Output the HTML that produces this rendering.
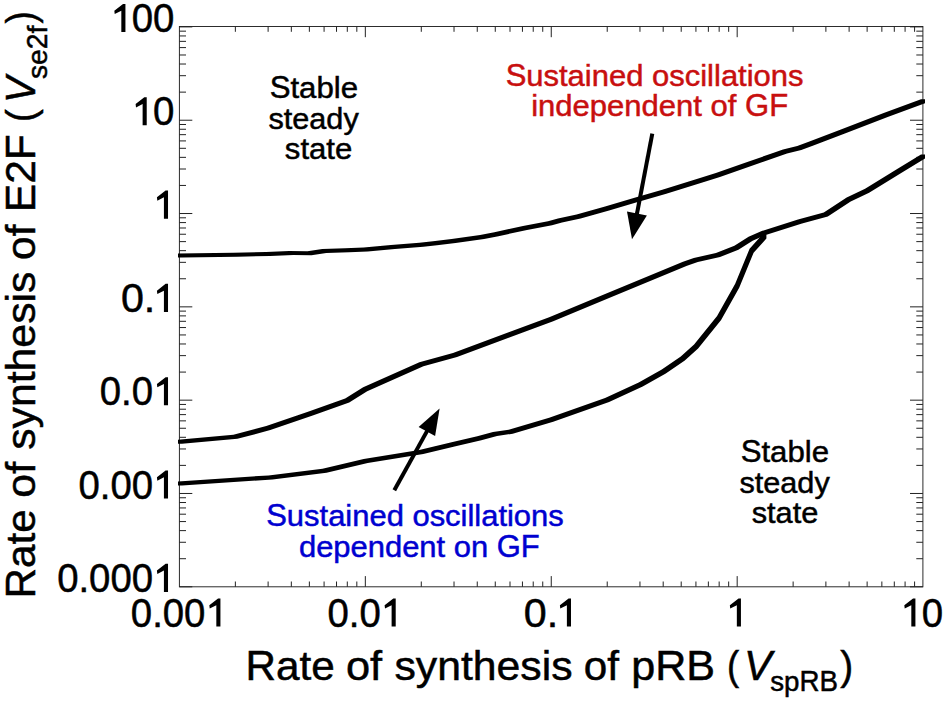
<!DOCTYPE html>
<html><head><meta charset="utf-8"><title>Chart</title>
<style>
html,body{margin:0;padding:0;background:#fff;overflow:hidden;}
svg{display:block;}
text{font-family:"Liberation Sans",sans-serif;font-kerning:none;}
</style></head><body>
<svg width="945" height="701" viewBox="0 0 945 701">
<rect width="945" height="701" fill="#fff"/>
<rect x="179.4" y="26.5" width="743.5" height="560.3" fill="none" stroke="#222" stroke-width="0.95"/>
<path d="M235.37 586.8v-5.3M235.37 26.5v5.3M268.11 586.8v-5.3M268.11 26.5v5.3M291.34 586.8v-5.3M291.34 26.5v5.3M309.36 586.8v-5.3M309.36 26.5v5.3M324.08 586.8v-5.3M324.08 26.5v5.3M336.52 586.8v-5.3M336.52 26.5v5.3M347.31 586.8v-5.3M347.31 26.5v5.3M356.82 586.8v-5.3M356.82 26.5v5.3M365.33 586.8v-10.7M365.33 26.5v10.7M421.29 586.8v-5.3M421.29 26.5v5.3M454.03 586.8v-5.3M454.03 26.5v5.3M477.26 586.8v-5.3M477.26 26.5v5.3M495.28 586.8v-5.3M495.28 26.5v5.3M510.00 586.8v-5.3M510.00 26.5v5.3M522.45 586.8v-5.3M522.45 26.5v5.3M533.23 586.8v-5.3M533.23 26.5v5.3M542.74 586.8v-5.3M542.74 26.5v5.3M551.25 586.8v-10.7M551.25 26.5v10.7M607.22 586.8v-5.3M607.22 26.5v5.3M639.96 586.8v-5.3M639.96 26.5v5.3M663.19 586.8v-5.3M663.19 26.5v5.3M681.21 586.8v-5.3M681.21 26.5v5.3M695.93 586.8v-5.3M695.93 26.5v5.3M708.37 586.8v-5.3M708.37 26.5v5.3M719.16 586.8v-5.3M719.16 26.5v5.3M728.67 586.8v-5.3M728.67 26.5v5.3M737.18 586.8v-10.7M737.18 26.5v10.7M793.14 586.8v-5.3M793.14 26.5v5.3M825.88 586.8v-5.3M825.88 26.5v5.3M849.11 586.8v-5.3M849.11 26.5v5.3M867.13 586.8v-5.3M867.13 26.5v5.3M881.85 586.8v-5.3M881.85 26.5v5.3M894.30 586.8v-5.3M894.30 26.5v5.3M905.08 586.8v-5.3M905.08 26.5v5.3M914.59 586.8v-5.3M914.59 26.5v5.3M179.4 586.80h12.9M922.9 586.80h-12.9M179.4 558.71h6.6M922.9 558.71h-6.6M179.4 542.28h6.6M922.9 542.28h-6.6M179.4 530.62h6.6M922.9 530.62h-6.6M179.4 521.57h6.6M922.9 521.57h-6.6M179.4 514.19h6.6M922.9 514.19h-6.6M179.4 507.94h6.6M922.9 507.94h-6.6M179.4 502.53h6.6M922.9 502.53h-6.6M179.4 497.75h6.6M922.9 497.75h-6.6M179.4 493.48h12.9M922.9 493.48h-12.9M179.4 465.39h6.6M922.9 465.39h-6.6M179.4 448.96h6.6M922.9 448.96h-6.6M179.4 437.30h6.6M922.9 437.30h-6.6M179.4 428.26h6.6M922.9 428.26h-6.6M179.4 420.87h6.6M922.9 420.87h-6.6M179.4 414.62h6.6M922.9 414.62h-6.6M179.4 409.21h6.6M922.9 409.21h-6.6M179.4 404.44h6.6M922.9 404.44h-6.6M179.4 400.17h12.9M922.9 400.17h-12.9M179.4 372.08h6.6M922.9 372.08h-6.6M179.4 355.64h6.6M922.9 355.64h-6.6M179.4 343.98h6.6M922.9 343.98h-6.6M179.4 334.94h6.6M922.9 334.94h-6.6M179.4 327.55h6.6M922.9 327.55h-6.6M179.4 321.30h6.6M922.9 321.30h-6.6M179.4 315.89h6.6M922.9 315.89h-6.6M179.4 311.12h6.6M922.9 311.12h-6.6M179.4 306.85h12.9M922.9 306.85h-12.9M179.4 278.76h6.6M922.9 278.76h-6.6M179.4 262.33h6.6M922.9 262.33h-6.6M179.4 250.67h6.6M922.9 250.67h-6.6M179.4 241.62h6.6M922.9 241.62h-6.6M179.4 234.24h6.6M922.9 234.24h-6.6M179.4 227.99h6.6M922.9 227.99h-6.6M179.4 222.58h6.6M922.9 222.58h-6.6M179.4 217.80h6.6M922.9 217.80h-6.6M179.4 213.53h12.9M922.9 213.53h-12.9M179.4 185.44h6.6M922.9 185.44h-6.6M179.4 169.01h6.6M922.9 169.01h-6.6M179.4 157.35h6.6M922.9 157.35h-6.6M179.4 148.31h6.6M922.9 148.31h-6.6M179.4 140.92h6.6M922.9 140.92h-6.6M179.4 134.67h6.6M922.9 134.67h-6.6M179.4 129.26h6.6M922.9 129.26h-6.6M179.4 124.49h6.6M922.9 124.49h-6.6M179.4 120.22h12.9M922.9 120.22h-12.9M179.4 92.13h6.6M922.9 92.13h-6.6M179.4 75.69h6.6M922.9 75.69h-6.6M179.4 64.03h6.6M922.9 64.03h-6.6M179.4 54.99h6.6M922.9 54.99h-6.6M179.4 47.60h6.6M922.9 47.60h-6.6M179.4 41.35h6.6M922.9 41.35h-6.6M179.4 35.94h6.6M922.9 35.94h-6.6M179.4 31.17h6.6M922.9 31.17h-6.6M179.4 26.90h12.9M922.9 26.90h-12.9" fill="none" stroke="#222" stroke-width="1"/>
<path d="M178.0 257.4 L178.0 253.4 L233.4 252.7 L266.1 252.0 L289.3 250.9 L307.4 251.3 L322.3 249.1 L345.1 248.3 L363.7 247.6 L390.9 245.1 L419.4 242.7 L433.0 241.3 L451.6 239.0 L480.1 234.9 L494.4 232.2 L523.0 225.9 L548.0 221.3 L558.0 218.6 L576.6 214.4 L605.1 206.6 L633.7 198.0 L662.3 189.7 L701.6 177.5 L715.9 173.0 L744.4 163.0 L773.0 153.0 L783.0 149.4 L797.3 145.9 L809.4 141.6 L840.9 129.4 L883.7 113.0 L921.0 99.3 L925.0 99.3 L925.0 103.3 L887.7 117.0 L844.9 133.4 L813.4 145.6 L801.3 149.9 L787.0 153.4 L777.0 157.0 L748.4 167.0 L719.9 177.0 L705.6 181.5 L666.3 193.7 L637.7 202.0 L609.1 210.6 L580.6 218.4 L562.0 222.6 L552.0 225.3 L527.0 229.9 L498.4 236.2 L484.1 238.9 L455.6 243.0 L437.0 245.3 L423.4 246.7 L394.9 249.1 L367.7 251.6 L349.1 252.3 L326.3 253.1 L311.4 255.3 L293.3 254.9 L270.1 256.0 L237.4 256.7 L182.0 257.4Z" fill="#000"/>
<path d="M178.0 443.8 L178.0 439.8 L233.4 434.8 L266.3 426.1 L308.7 411.5 L345.2 398.4 L363.2 387.3 L419.4 362.3 L453.0 353.0 L549.2 317.2 L605.1 294.0 L683.0 261.8 L693.8 258.0 L716.0 253.0 L734.4 245.8 L748.6 236.8 L761.7 231.1 L798.0 219.4 L823.8 212.4 L846.7 197.4 L865.1 188.8 L898.0 168.6 L921.0 154.4 L925.0 154.4 L925.0 158.4 L902.0 172.6 L869.1 192.8 L850.7 201.4 L827.8 216.4 L802.0 223.4 L765.7 235.1 L752.6 240.8 L738.4 249.8 L720.0 257.0 L697.8 262.0 L687.0 265.8 L609.1 298.0 L553.2 321.2 L457.0 357.0 L423.4 366.3 L367.2 391.3 L349.2 402.4 L312.7 415.5 L270.3 430.1 L237.4 438.8 L182.0 443.8Z" fill="#000"/>
<path d="M178.0 485.4 L178.0 481.4 L268.5 475.4 L322.5 468.8 L363.7 458.9 L419.3 450.0 L451.6 442.3 L477.3 436.3 L493.0 432.0 L508.7 429.7 L549.2 417.8 L605.1 398.0 L638.7 382.5 L661.8 369.4 L680.8 356.5 L694.1 344.5 L717.1 315.9 L735.2 283.8 L749.6 248.7 L762.4 234.5 L766.4 234.5 L766.4 238.5 L753.6 252.7 L739.2 287.8 L721.1 319.9 L698.1 348.5 L684.8 360.5 L665.8 373.4 L642.7 386.5 L609.1 402.0 L553.2 421.8 L512.7 433.7 L497.0 436.0 L481.3 440.3 L455.6 446.3 L423.3 454.0 L367.7 462.9 L326.5 472.8 L272.5 479.4 L182.0 485.4Z" fill="#000"/>
<path d="M652.3 133.6 L636.8 214.5" stroke="#000" stroke-width="4.0" fill="none"/>
<path d="M632.0 239.3 L627.0 211.6 L646.9 215.4Z" fill="#000"/>
<path d="M394.3 490.3 L427.3 430.6" stroke="#000" stroke-width="4.0" fill="none"/>
<path d="M439.6 408.5 L435.1 436.1 L418.6 426.9Z" fill="#000"/>
<path d="M125.43 32.00 L121.33 32.00 L121.33 10.70 L114.73 14.10 L114.33 10.70 L123.03 3.90 L125.43 3.90Z" fill="#000"/>
<text x="131.68" y="32.00" font-size="40.00" textLength="42.65" lengthAdjust="spacingAndGlyphs" fill="#000" stroke="#000" stroke-width="0.5" xml:space="preserve">00</text>
<path d="M146.72 125.32 L142.62 125.32 L142.62 104.02 L136.02 107.42 L135.62 104.02 L144.32 97.22 L146.72 97.22Z" fill="#000"/>
<text x="152.97" y="125.32" font-size="40.00" textLength="21.36" lengthAdjust="spacingAndGlyphs" fill="#000" stroke="#000" stroke-width="0.5" xml:space="preserve">0</text>
<path d="M168.02 218.63 L163.92 218.63 L163.92 197.33 L157.32 200.73 L156.92 197.33 L165.62 190.53 L168.02 190.53Z" fill="#000"/>
<text x="120.92" y="311.95" font-size="40.00" textLength="22.93" lengthAdjust="spacingAndGlyphs" fill="#000" stroke="#000" stroke-width="0.5" xml:space="preserve">0</text>
<text x="143.85" y="311.95" font-size="38.28" textLength="11.45" lengthAdjust="spacingAndGlyphs" fill="#000" stroke="#000" stroke-width="0.5" xml:space="preserve">.</text>
<path d="M168.02 311.95 L163.92 311.95 L163.92 290.65 L157.32 294.05 L156.92 290.65 L165.62 283.85 L168.02 283.85Z" fill="#000"/>
<text x="99.74" y="405.27" font-size="40.00" textLength="21.32" lengthAdjust="spacingAndGlyphs" fill="#000" stroke="#000" stroke-width="0.5" xml:space="preserve">0</text>
<text x="121.06" y="405.27" font-size="38.28" textLength="10.65" lengthAdjust="spacingAndGlyphs" fill="#000" stroke="#000" stroke-width="0.5" xml:space="preserve">.</text>
<text x="131.71" y="405.27" font-size="40.00" textLength="21.32" lengthAdjust="spacingAndGlyphs" fill="#000" stroke="#000" stroke-width="0.5" xml:space="preserve">0</text>
<path d="M168.02 405.27 L163.92 405.27 L163.92 383.97 L157.32 387.37 L156.92 383.97 L165.62 377.17 L168.02 377.17Z" fill="#000"/>
<text x="78.44" y="498.58" font-size="40.00" textLength="21.31" lengthAdjust="spacingAndGlyphs" fill="#000" stroke="#000" stroke-width="0.5" xml:space="preserve">0</text>
<text x="99.76" y="498.58" font-size="38.28" textLength="10.65" lengthAdjust="spacingAndGlyphs" fill="#000" stroke="#000" stroke-width="0.5" xml:space="preserve">.</text>
<text x="110.41" y="498.58" font-size="40.00" textLength="42.63" lengthAdjust="spacingAndGlyphs" fill="#000" stroke="#000" stroke-width="0.5" xml:space="preserve">00</text>
<path d="M168.02 498.58 L163.92 498.58 L163.92 477.28 L157.32 480.68 L156.92 477.28 L165.62 470.48 L168.02 470.48Z" fill="#000"/>
<text x="57.15" y="591.90" font-size="40.00" textLength="21.31" lengthAdjust="spacingAndGlyphs" fill="#000" stroke="#000" stroke-width="0.5" xml:space="preserve">0</text>
<text x="78.46" y="591.90" font-size="38.28" textLength="10.65" lengthAdjust="spacingAndGlyphs" fill="#000" stroke="#000" stroke-width="0.5" xml:space="preserve">.</text>
<text x="89.10" y="591.90" font-size="40.00" textLength="63.93" lengthAdjust="spacingAndGlyphs" fill="#000" stroke="#000" stroke-width="0.5" xml:space="preserve">000</text>
<path d="M168.02 591.90 L163.92 591.90 L163.92 570.60 L157.32 574.00 L156.92 570.60 L165.62 563.80 L168.02 563.80Z" fill="#000"/>
<text x="130.86" y="626.50" font-size="40.00" textLength="21.31" lengthAdjust="spacingAndGlyphs" fill="#000" stroke="#000" stroke-width="0.5" xml:space="preserve">0</text>
<text x="152.17" y="626.50" font-size="38.28" textLength="10.65" lengthAdjust="spacingAndGlyphs" fill="#000" stroke="#000" stroke-width="0.5" xml:space="preserve">.</text>
<text x="162.82" y="626.50" font-size="40.00" textLength="42.63" lengthAdjust="spacingAndGlyphs" fill="#000" stroke="#000" stroke-width="0.5" xml:space="preserve">00</text>
<path d="M220.43 626.50 L216.33 626.50 L216.33 605.20 L209.73 608.60 L209.33 605.20 L218.03 598.40 L220.43 598.40Z" fill="#000"/>
<text x="327.43" y="626.50" font-size="40.00" textLength="21.32" lengthAdjust="spacingAndGlyphs" fill="#000" stroke="#000" stroke-width="0.5" xml:space="preserve">0</text>
<text x="348.75" y="626.50" font-size="38.28" textLength="10.65" lengthAdjust="spacingAndGlyphs" fill="#000" stroke="#000" stroke-width="0.5" xml:space="preserve">.</text>
<text x="359.40" y="626.50" font-size="40.00" textLength="21.32" lengthAdjust="spacingAndGlyphs" fill="#000" stroke="#000" stroke-width="0.5" xml:space="preserve">0</text>
<path d="M395.71 626.50 L391.61 626.50 L391.61 605.20 L385.01 608.60 L384.61 605.20 L393.31 598.40 L395.71 598.40Z" fill="#000"/>
<text x="523.89" y="626.50" font-size="40.00" textLength="22.93" lengthAdjust="spacingAndGlyphs" fill="#000" stroke="#000" stroke-width="0.5" xml:space="preserve">0</text>
<text x="546.82" y="626.50" font-size="38.28" textLength="11.45" lengthAdjust="spacingAndGlyphs" fill="#000" stroke="#000" stroke-width="0.5" xml:space="preserve">.</text>
<path d="M570.99 626.50 L566.89 626.50 L566.89 605.20 L560.29 608.60 L559.89 605.20 L568.59 598.40 L570.99 598.40Z" fill="#000"/>
<path d="M740.94 626.50 L736.84 626.50 L736.84 605.20 L730.24 608.60 L729.84 605.20 L738.54 598.40 L740.94 598.40Z" fill="#000"/>
<path d="M915.42 626.50 L911.32 626.50 L911.32 605.20 L904.72 608.60 L904.32 605.20 L913.02 598.40 L915.42 598.40Z" fill="#000"/>
<text x="921.67" y="626.50" font-size="40.00" textLength="21.36" lengthAdjust="spacingAndGlyphs" fill="#000" stroke="#000" stroke-width="0.5" xml:space="preserve">0</text>
<text x="245.48" y="680.00" font-size="42.74" textLength="30.51" lengthAdjust="spacingAndGlyphs" fill="#000" stroke="#000" stroke-width="0.5" xml:space="preserve">R</text>
<text x="276.00" y="680.00" font-size="40.90" textLength="58.73" lengthAdjust="spacingAndGlyphs" fill="#000" stroke="#000" stroke-width="0.5" xml:space="preserve">ate</text>
<text x="346.03" y="680.00" font-size="40.90" textLength="36.16" lengthAdjust="spacingAndGlyphs" fill="#000" stroke="#000" stroke-width="0.5" xml:space="preserve">of</text>
<text x="394.46" y="680.00" font-size="40.90" textLength="178.03" lengthAdjust="spacingAndGlyphs" fill="#000" stroke="#000" stroke-width="0.5" xml:space="preserve">synthesis</text>
<text x="583.78" y="680.00" font-size="40.90" textLength="35.21" lengthAdjust="spacingAndGlyphs" fill="#000" stroke="#000" stroke-width="0.5" xml:space="preserve">of</text>
<text x="631.27" y="680.00" font-size="40.90" textLength="23.97" lengthAdjust="spacingAndGlyphs" fill="#000" stroke="#000" stroke-width="0.5" xml:space="preserve">p</text>
<text x="655.24" y="680.00" font-size="42.74" textLength="59.88" lengthAdjust="spacingAndGlyphs" fill="#000" stroke="#000" stroke-width="0.5" xml:space="preserve">RB</text>
<text x="727.08" y="680.00" font-size="40.90" textLength="12.18" lengthAdjust="spacingAndGlyphs" fill="#000" stroke="#000" stroke-width="0.5" xml:space="preserve">(</text>
<text x="744.05" y="680.00" font-size="42.74" textLength="27.77" lengthAdjust="spacingAndGlyphs" fill="#000" stroke="#000" stroke-width="0.5" font-style="italic" xml:space="preserve">V</text>
<text x="770.28" y="690.90" font-size="28.00" textLength="29.25" lengthAdjust="spacingAndGlyphs" fill="#000" stroke="#000" stroke-width="0.5" xml:space="preserve">sp</text>
<text x="799.53" y="690.90" font-size="29.26" textLength="38.48" lengthAdjust="spacingAndGlyphs" fill="#000" stroke="#000" stroke-width="0.5" xml:space="preserve">RB</text>
<text x="840.22" y="680.00" font-size="40.90" textLength="12.94" lengthAdjust="spacingAndGlyphs" fill="#000" stroke="#000" stroke-width="0.5" xml:space="preserve">)</text>
<g transform="translate(34.5 600.0) rotate(-90)">
<text x="1.49" y="0.00" font-size="42.74" textLength="30.47" lengthAdjust="spacingAndGlyphs" fill="#000" stroke="#000" stroke-width="0.5" xml:space="preserve">R</text>
<text x="31.96" y="0.00" font-size="40.90" textLength="58.66" lengthAdjust="spacingAndGlyphs" fill="#000" stroke="#000" stroke-width="0.5" xml:space="preserve">ate</text>
<text x="102.35" y="0.00" font-size="40.90" textLength="35.84" lengthAdjust="spacingAndGlyphs" fill="#000" stroke="#000" stroke-width="0.5" xml:space="preserve">of</text>
<text x="150.16" y="0.00" font-size="40.90" textLength="178.24" lengthAdjust="spacingAndGlyphs" fill="#000" stroke="#000" stroke-width="0.5" xml:space="preserve">synthesis</text>
<text x="340.07" y="0.00" font-size="40.90" textLength="35.42" lengthAdjust="spacingAndGlyphs" fill="#000" stroke="#000" stroke-width="0.5" xml:space="preserve">of</text>
<text x="387.76" y="0.00" font-size="42.74" textLength="78.10" lengthAdjust="spacingAndGlyphs" fill="#000" stroke="#000" stroke-width="0.5" xml:space="preserve">E2F</text>
<text x="478.09" y="0.00" font-size="40.90" textLength="12.69" lengthAdjust="spacingAndGlyphs" fill="#000" stroke="#000" stroke-width="0.5" xml:space="preserve">(</text>
<text x="497.11" y="0.00" font-size="42.74" textLength="26.55" lengthAdjust="spacingAndGlyphs" fill="#000" stroke="#000" stroke-width="0.5" font-style="italic" xml:space="preserve">V</text>
<text x="520.96" y="12.30" font-size="28.00" textLength="29.86" lengthAdjust="spacingAndGlyphs" fill="#000" stroke="#000" stroke-width="0.5" xml:space="preserve">se</text>
<text x="550.83" y="12.30" font-size="29.26" textLength="15.73" lengthAdjust="spacingAndGlyphs" fill="#000" stroke="#000" stroke-width="0.5" xml:space="preserve">2</text>
<text x="566.55" y="12.30" font-size="28.00" textLength="7.86" lengthAdjust="spacingAndGlyphs" fill="#000" stroke="#000" stroke-width="0.5" xml:space="preserve">f</text>
<text x="576.43" y="0.00" font-size="40.90" textLength="12.31" lengthAdjust="spacingAndGlyphs" fill="#000" stroke="#000" stroke-width="0.5" xml:space="preserve">)</text>
</g>
<text x="269.63" y="97.60" font-size="31.77" textLength="20.79" lengthAdjust="spacingAndGlyphs" fill="#000" stroke="#000" stroke-width="0.5" xml:space="preserve">S</text>
<text x="290.43" y="97.60" font-size="30.40" textLength="67.61" lengthAdjust="spacingAndGlyphs" fill="#000" stroke="#000" stroke-width="0.5" xml:space="preserve">table</text>
<text x="268.50" y="128.60" font-size="30.40" textLength="90.21" lengthAdjust="spacingAndGlyphs" fill="#000" stroke="#000" stroke-width="0.5" xml:space="preserve">steady</text>
<text x="284.88" y="159.00" font-size="30.40" textLength="67.45" lengthAdjust="spacingAndGlyphs" fill="#000" stroke="#000" stroke-width="0.5" xml:space="preserve">state</text>
<text x="740.63" y="461.80" font-size="31.77" textLength="20.79" lengthAdjust="spacingAndGlyphs" fill="#000" stroke="#000" stroke-width="0.5" xml:space="preserve">S</text>
<text x="761.43" y="461.80" font-size="30.40" textLength="67.61" lengthAdjust="spacingAndGlyphs" fill="#000" stroke="#000" stroke-width="0.5" xml:space="preserve">table</text>
<text x="739.50" y="492.50" font-size="30.40" textLength="90.21" lengthAdjust="spacingAndGlyphs" fill="#000" stroke="#000" stroke-width="0.5" xml:space="preserve">steady</text>
<text x="751.69" y="523.30" font-size="30.40" textLength="66.62" lengthAdjust="spacingAndGlyphs" fill="#000" stroke="#000" stroke-width="0.5" xml:space="preserve">state</text>
<text x="505.64" y="85.80" font-size="31.77" textLength="20.66" lengthAdjust="spacingAndGlyphs" fill="#c80f0f" stroke="#c80f0f" stroke-width="0.5" xml:space="preserve">S</text>
<text x="526.31" y="85.80" font-size="30.40" textLength="277.26" lengthAdjust="spacingAndGlyphs" fill="#c80f0f" stroke="#c80f0f" stroke-width="0.5" xml:space="preserve">ustained oscillations</text>
<text x="531.17" y="116.40" font-size="30.40" textLength="205.31" lengthAdjust="spacingAndGlyphs" fill="#c80f0f" stroke="#c80f0f" stroke-width="0.5" xml:space="preserve">independent of</text>
<text x="745.11" y="116.40" font-size="31.77" textLength="43.09" lengthAdjust="spacingAndGlyphs" fill="#c80f0f" stroke="#c80f0f" stroke-width="0.5" xml:space="preserve">GF</text>
<text x="266.25" y="526.00" font-size="31.77" textLength="20.64" lengthAdjust="spacingAndGlyphs" fill="#0000d0" stroke="#0000d0" stroke-width="0.5" xml:space="preserve">S</text>
<text x="286.88" y="526.00" font-size="30.40" textLength="276.89" lengthAdjust="spacingAndGlyphs" fill="#0000d0" stroke="#0000d0" stroke-width="0.5" xml:space="preserve">ustained oscillations</text>
<text x="298.95" y="557.00" font-size="30.40" textLength="189.19" lengthAdjust="spacingAndGlyphs" fill="#0000d0" stroke="#0000d0" stroke-width="0.5" xml:space="preserve">dependent on</text>
<text x="496.74" y="557.00" font-size="31.77" textLength="42.95" lengthAdjust="spacingAndGlyphs" fill="#0000d0" stroke="#0000d0" stroke-width="0.5" xml:space="preserve">GF</text>
</svg>
</body></html>
